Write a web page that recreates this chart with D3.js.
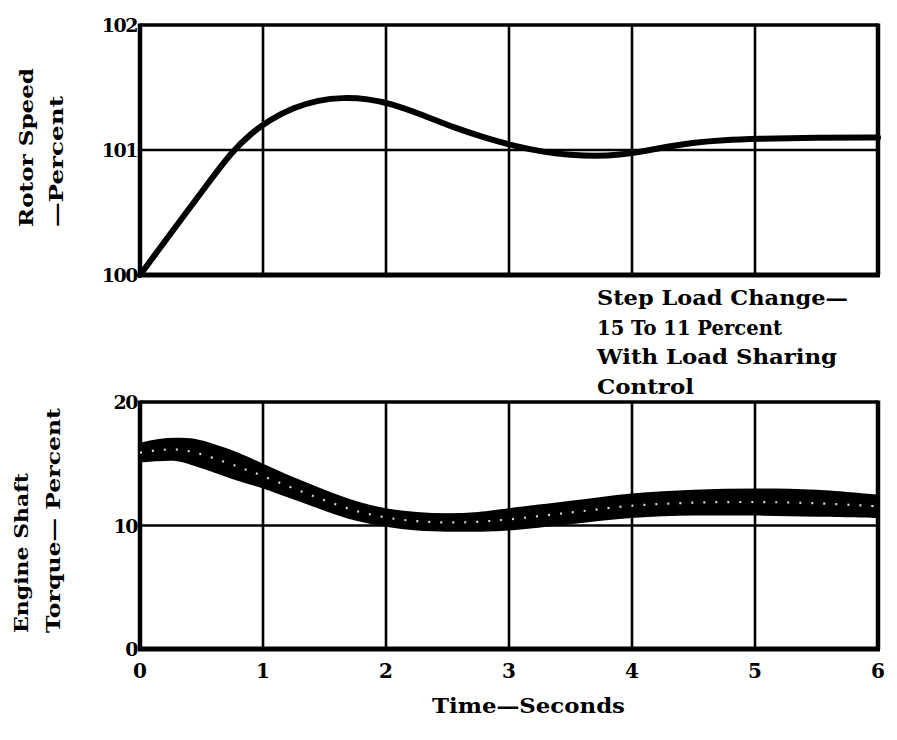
<!DOCTYPE html>
<html><head><meta charset="utf-8">
<script src="https://cdn.jsdelivr.net/npm/d3@7"></script>
<style>html,body{margin:0;padding:0;background:#fff;}svg{display:block;}</style>
</head><body>
<svg id="c" width="897" height="740"></svg>
<script>
// ---- data ----
const timeTicks = [0, 1, 2, 3, 4, 5, 6];
const speedTicks = [100, 101, 102];
const torqueTicks = [0, 10, 20];

const speedTime  = [0, 0.3, 0.55, 0.75, 0.9, 1.05, 1.25, 1.45, 1.65, 1.85, 2.05, 2.3, 2.55, 2.8, 3.05, 3.3, 3.5, 3.7, 3.9, 4.1, 4.3, 4.5, 4.75, 5.0, 5.5, 6.0];
const speedValue = [100, 100.4, 100.73, 100.99, 101.13, 101.24, 101.34, 101.4, 101.42, 101.41, 101.37, 101.28, 101.18, 101.1, 101.03, 100.98, 100.96, 100.95, 100.96, 100.99, 101.03, 101.06, 101.08, 101.09, 101.1, 101.1];

const torqueTime  = [0, 0.15, 0.3, 0.45, 0.6, 0.8, 1.0, 1.25, 1.5, 1.75, 2.0, 2.25, 2.5, 2.75, 3.0, 3.5, 4.0, 4.5, 5.0, 5.5, 6.0];
const torqueUpper = [16.7, 17.0, 17.1, 17.0, 16.6, 15.9, 15.0, 13.9, 12.9, 12.0, 11.4, 11.1, 11.0, 11.1, 11.4, 12.0, 12.6, 12.9, 13.0, 12.9, 12.5];
const torqueLower = [15.1, 15.2, 15.2, 14.8, 14.3, 13.6, 13.0, 12.1, 11.2, 10.4, 9.9, 9.6, 9.5, 9.5, 9.6, 10.1, 10.6, 10.8, 10.8, 10.7, 10.6];

const speedLabel = ["Rotor Speed", "\u2014Percent"];
const torqueLabel = ["Engine Shaft", "Torque\u2014 Percent"];
const xLabel = "Time\u2014Seconds";
const note = ["Step Load Change\u2014", "15 To 11 Percent", "With Load Sharing", "Control"];

// ---- layout ----
const svg = d3.select("#c");
const FONT = "'DejaVu Serif', 'Liberation Serif', serif";
const x = d3.scaleLinear().domain([0, 6]).range([140, 878]);
const yS = d3.scaleLinear().domain([100, 102]).range([275, 25]);
const yT = d3.scaleLinear().domain([0, 20]).range([649, 402]);

function panel(y, ticks, withX) {
  const g = svg.append("g");
  g.selectAll(".vg").data(timeTicks.slice(1, -1)).join("line")
    .attr("x1", d => x(d)).attr("x2", d => x(d))
    .attr("y1", y.range()[1]).attr("y2", y.range()[0])
    .attr("stroke", "#000").attr("stroke-width", 2.6);
  g.selectAll(".hg").data(ticks.slice(1, -1)).join("line")
    .attr("x1", x(0)).attr("x2", x(6))
    .attr("y1", d => y(d)).attr("y2", d => y(d))
    .attr("stroke", "#000").attr("stroke-width", 2.6);
  const [y0, y1] = [y.range()[0], y.range()[1]];
  g.append("line").attr("x1", x(0)).attr("x2", x(6)).attr("y1", y1).attr("y2", y1).attr("stroke", "#000").attr("stroke-width", 3.5);
  g.append("line").attr("x1", x(0) - 2).attr("x2", x(6) + 2).attr("y1", y0).attr("y2", y0).attr("stroke", "#000").attr("stroke-width", 5);
  g.append("line").attr("x1", x(0)).attr("x2", x(0)).attr("y1", y1 - 1.5).attr("y2", y0).attr("stroke", "#000").attr("stroke-width", 4.5);
  g.append("line").attr("x1", x(6)).attr("x2", x(6)).attr("y1", y1 - 1.5).attr("y2", y0).attr("stroke", "#000").attr("stroke-width", 4.5);
  g.selectAll(".yt").data(ticks).join("text")
    .attr("x", x(0) - 3).attr("y", d => y(d) + 7)
    .attr("text-anchor", "end").attr("font-family", FONT).attr("font-weight", "bold")
    .attr("font-size", 19).attr("letter-spacing", -1.5).text(d => d);
  if (withX) {
    g.selectAll(".xt").data(timeTicks).join("text")
      .attr("x", d => x(d)).attr("y", 678)
      .attr("text-anchor", "middle").attr("font-family", FONT).attr("font-weight", "bold")
      .attr("font-size", 20).text(d => d);
  }
  return g;
}

panel(yS, speedTicks, false);
panel(yT, torqueTicks, true);

// rotor speed curve
const sp = speedTime.map((t, i) => [t, speedValue[i]]);
svg.append("path").datum(sp)
  .attr("d", d3.line().x(d => x(d[0])).y(d => yS(d[1])).curve(d3.curveBasis))
  .attr("fill", "none").attr("stroke", "#000").attr("stroke-width", 6).attr("stroke-linecap", "round");

// torque band
const tq = torqueTime.map((t, i) => ({t, hi: torqueUpper[i], lo: torqueLower[i]}));
svg.append("path").datum(tq)
  .attr("d", d3.area().x(d => x(d.t)).y0(d => yT(d.lo)).y1(d => yT(d.hi)).curve(d3.curveCatmullRom.alpha(0.5)))
  .attr("fill", "#000");
svg.append("path").datum(tq)
  .attr("d", d3.line().x(d => x(d.t)).y(d => (yT(d.lo) + yT(d.hi)) / 2).curve(d3.curveCatmullRom.alpha(0.5)))
  .attr("fill", "none").attr("stroke", "#fff").attr("stroke-width", 2.2)
  .attr("stroke-dasharray", "2,10").attr("opacity", 0.85);

// axis titles
function vlabel(lines, xs, yStart, lens) {
  lines.forEach((s, i) => {
    svg.append("text")
      .attr("transform", `translate(${xs[i]},${yStart}) rotate(-90)`)
      .attr("font-family", FONT).attr("font-weight", "bold").attr("font-size", 19)
      .attr("textLength", lens[i]).attr("lengthAdjust", "spacingAndGlyphs")
      .text(s);
  });
}
vlabel(speedLabel, [33, 63], 227, [159, 131]);
vlabel(torqueLabel, [28, 60], 633, [160, 225]);

svg.append("text").attr("x", 432).attr("y", 713)
  .attr("font-family", FONT).attr("font-weight", "bold").attr("font-size", 20)
  .attr("textLength", 193).attr("lengthAdjust", "spacingAndGlyphs").text(xLabel);

const noteLens = [251, 185, 240, 97];
note.forEach((s, i) => {
  svg.append("text").attr("x", 597).attr("y", 305 + i * 29.5)
    .attr("font-family", FONT).attr("font-weight", "bold").attr("font-size", 21)
    .attr("textLength", noteLens[i]).attr("lengthAdjust", "spacingAndGlyphs").text(s);
});
</script>
</body></html>
